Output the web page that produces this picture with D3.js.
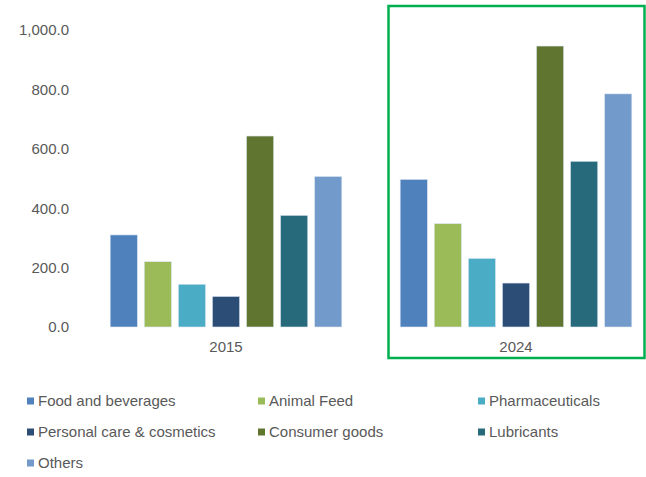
<!DOCTYPE html>
<html>
<head>
<meta charset="utf-8">
<script src="https://cdn.jsdelivr.net/npm/d3@7"></script>
<style>
  html, body { margin: 0; padding: 0; background: #fff; }
  svg { display: block; font-family: "Liberation Sans", Arial, sans-serif; }
</style>
</head>
<body>
<svg id="chart" width="646" height="477"></svg>
<script>
const years = ["2015", "2024"];
const categories = ["Food and beverages", "Animal Feed", "Pharmaceuticals",
  "Personal care & cosmetics", "Consumer goods", "Lubricants", "Others"];
const values2015 = [310, 220, 144, 103, 643, 376, 507];
const values2024 = [497, 348, 231, 148, 946, 558, 785];
const colors = ["#4F81BD", "#9BBB59", "#4BACC6", "#2C4D75", "#5F7530", "#276A7C", "#729ACA"];
const yTicks = [0, 200, 400, 600, 800, 1000];

const valuesByYear = { "2015": values2015, "2024": values2024 };
const svg = d3.select("#chart");
const textColor = "#595959";

const y = d3.scaleLinear().domain([0, 1000]).range([327, 30]);
const x0 = d3.scaleBand().domain(years).range([81, 661]).padding(0);
const x1 = d3.scaleBand().domain(categories).range([0, x0.bandwidth()])
  .paddingInner(0.2).paddingOuter(0.856);
const color = d3.scaleOrdinal().domain(categories).range(colors);

// Highlight box around 2024
svg.append("rect")
  .attr("x", 388.5).attr("y", 6)
  .attr("width", 256).attr("height", 352)
  .attr("fill", "none").attr("stroke", "#00B050").attr("stroke-width", 2.5);

// Y axis (labels only)
const yAxis = d3.axisLeft(y).tickValues(yTicks).tickFormat(d3.format(",.1f")).tickSize(0).tickPadding(0);
const gy = svg.append("g").attr("transform", "translate(69,0)").call(yAxis);
gy.select(".domain").remove();
gy.selectAll("text").attr("fill", textColor).style("font-size", "15px")
  .style("font-family", "'Liberation Sans', Arial, sans-serif");

// X axis (group labels only)
const xAxis = d3.axisBottom(x0).tickSize(0).tickPadding(0);
const gx = svg.append("g").attr("transform", "translate(0,341.5)").call(xAxis);
gx.select(".domain").remove();
gx.selectAll("text").attr("fill", textColor).style("font-size", "15px")
  .style("font-family", "'Liberation Sans', Arial, sans-serif");

// Bars
const groups = svg.append("g").selectAll("g").data(years).join("g")
  .attr("transform", d => `translate(${x0(d)},0)`);
groups.selectAll("rect")
  .data(yr => categories.map((c, i) => ({ cat: c, value: valuesByYear[yr][i] })))
  .join("rect")
  .attr("x", d => x1(d.cat))
  .attr("y", d => y(d.value))
  .attr("width", x1.bandwidth())
  .attr("height", d => y(0) - y(d.value))
  .attr("fill", d => color(d.cat))
  .attr("stroke", "#dfe8f3").attr("stroke-width", 0.6);

// Legend
const legCols = [27, 258, 478];
const legRows = [401, 432, 463];
const legend = svg.append("g").selectAll("g").data(categories).join("g")
  .attr("transform", (d, i) => `translate(${legCols[i % 3]},${legRows[Math.floor(i / 3)]})`);
legend.append("rect")
  .attr("x", 0).attr("y", -3.5).attr("width", 7).attr("height", 7)
  .attr("fill", d => color(d));
legend.append("text")
  .attr("x", 11).attr("y", 0).attr("dy", "0.35em")
  .attr("fill", textColor).style("font-size", "15px")
  .text(d => d);
</script>
</body>
</html>
